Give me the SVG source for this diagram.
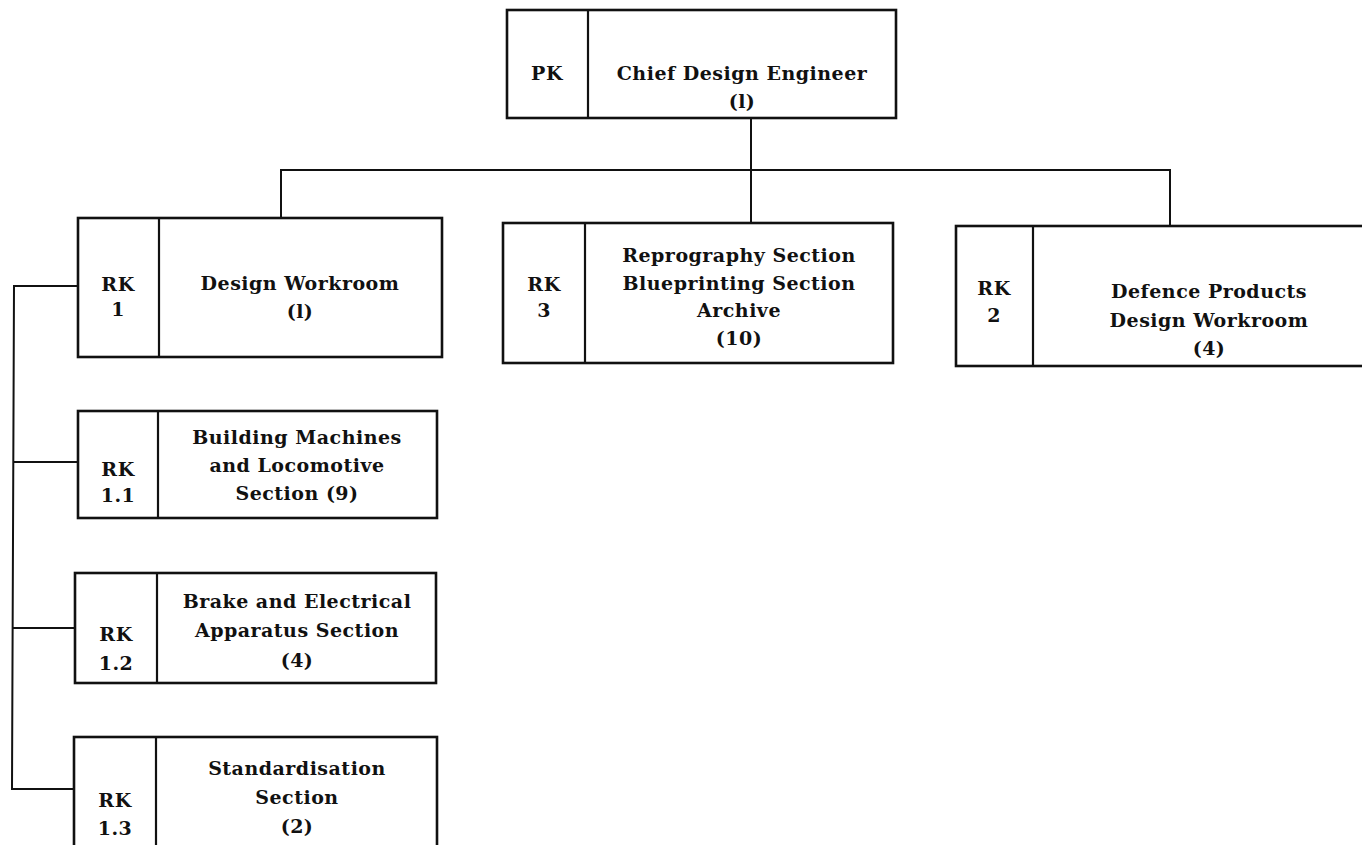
<svg xmlns="http://www.w3.org/2000/svg" width="1362" height="845" viewBox="0 0 1362 845">
  <style>
    .box { fill: #fff; stroke: #111; stroke-width: 2.6; }
    .div { stroke: #111; stroke-width: 2.2; }
    .wire { fill: none; stroke: #111; stroke-width: 2; }
    text { font-family: "DejaVu Serif", "Liberation Serif", serif; font-weight: bold; font-size: 19px; letter-spacing: 0.5px; fill: #111; text-anchor: middle; }
  </style>
  <rect width="1362" height="845" fill="#fff"/>

  <!-- connectors -->
  <g id="connectors">
    <line class="wire" x1="751" y1="118" x2="751" y2="223"/>
    <polyline class="wire" points="281,218 281,170 1170,170 1170,226"/>
    <polyline class="wire" points="78,286 14,286 12,789 74,789"/>
    <line class="wire" x1="13" y1="462" x2="78" y2="462"/>
    <line class="wire" x1="13" y1="628" x2="75" y2="628"/>
  </g>

  <!-- PK: chief design engineer -->
  <g id="pk">
    <rect class="box" x="507" y="10" width="389" height="108"/>
    <line class="div" x1="588" y1="10" x2="588" y2="118"/>
    <text x="547" y="80">PK</text>
    <text x="742" y="80">Chief Design Engineer</text>
    <text x="742" y="108">(l)</text>
  </g>

  <!-- RK 1: design workroom -->
  <g id="rk1">
    <rect class="box" x="78" y="218" width="364" height="139"/>
    <line class="div" x1="159" y1="218" x2="159" y2="357"/>
    <text x="118" y="291">RK</text>
    <text x="118" y="316">1</text>
    <text x="300" y="290">Design Workroom</text>
    <text x="300" y="318">(l)</text>
  </g>

  <!-- RK 3: reprography / blueprinting / archive -->
  <g id="rk3">
    <rect class="box" x="503" y="223" width="390" height="140"/>
    <line class="div" x1="585" y1="223" x2="585" y2="363"/>
    <text x="544" y="291">RK</text>
    <text x="544" y="317">3</text>
    <text x="739" y="262">Reprography Section</text>
    <text x="739" y="290">Blueprinting Section</text>
    <text x="739" y="317">Archive</text>
    <text x="739" y="345">(10)</text>
  </g>

  <!-- RK 2: defence products -->
  <g id="rk2">
    <rect class="box" x="956" y="226" width="430" height="140"/>
    <line class="div" x1="1033" y1="226" x2="1033" y2="366"/>
    <text x="994" y="295">RK</text>
    <text x="994" y="322">2</text>
    <text x="1209" y="298">Defence Products</text>
    <text x="1209" y="327">Design Workroom</text>
    <text x="1209" y="355">(4)</text>
  </g>

  <!-- RK 1.1 -->
  <g id="rk1-1">
    <rect class="box" x="78" y="411" width="359" height="107"/>
    <line class="div" x1="158" y1="411" x2="158" y2="518"/>
    <text x="118" y="476">RK</text>
    <text x="118" y="502">1.1</text>
    <text x="297" y="444">Building Machines</text>
    <text x="297" y="472">and Locomotive</text>
    <text x="297" y="500">Section (9)</text>
  </g>

  <!-- RK 1.2 -->
  <g id="rk1-2">
    <rect class="box" x="75" y="573" width="361" height="110"/>
    <line class="div" x1="157" y1="573" x2="157" y2="683"/>
    <text x="116" y="641">RK</text>
    <text x="116" y="670">1.2</text>
    <text x="297" y="608">Brake and Electrical</text>
    <text x="297" y="637">Apparatus Section</text>
    <text x="297" y="667">(4)</text>
  </g>

  <!-- RK 1.3 -->
  <g id="rk1-3">
    <rect class="box" x="74" y="737" width="363" height="120"/>
    <line class="div" x1="156" y1="737" x2="156" y2="857"/>
    <text x="115" y="807">RK</text>
    <text x="115" y="835">1.3</text>
    <text x="297" y="775">Standardisation</text>
    <text x="297" y="804">Section</text>
    <text x="297" y="833">(2)</text>
  </g>
</svg>
